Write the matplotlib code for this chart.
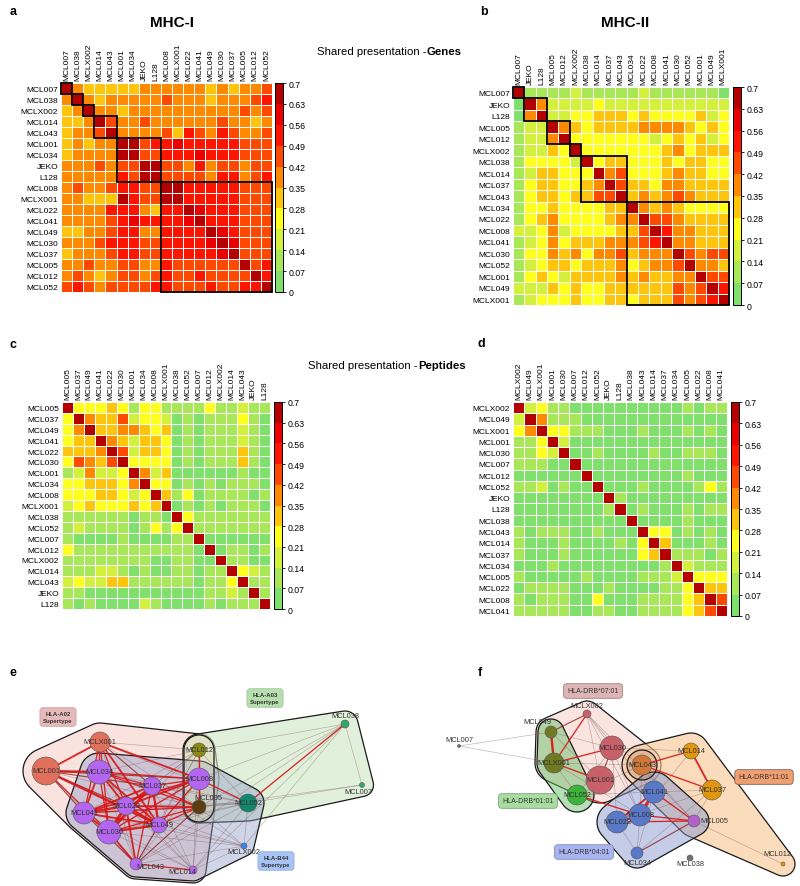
import numpy as np
import matplotlib.pyplot as plt
from matplotlib.colors import ListedColormap, BoundaryNorm, to_rgba
from matplotlib.patches import Polygon, Circle, Rectangle
from matplotlib.cm import ScalarMappable

plt.rcParams['font.family'] = ['Liberation Sans', 'DejaVu Sans']

# ---------------- data ----------------
mhc1_gene_names = ['MCL007', 'MCL038', 'MCLX002', 'MCL014', 'MCL043', 'MCL001', 'MCL034', 'JEKO', 'L128', 'MCL008',
                   'MCLX001', 'MCL022', 'MCL041', 'MCL049', 'MCL030', 'MCL037', 'MCL005', 'MCL012', 'MCL052']
mhc1_gene_clusters = [1, 1, 1, 2, 4, 10]
mhc1_genes = [
    [1.0, .38, .31, .31, .31, .31, .31, .38, .38, .38, .38, .38, .38, .31, .38, .31, .38, .38, .45],
    [.38, 1.0, .38, .31, .38, .38, .38, .38, .38, .45, .38, .38, .38, .31, .38, .38, .38, .45, .52],
    [.31, .38, 1.0, .38, .38, .31, .38, .38, .38, .38, .38, .38, .38, .38, .38, .38, .45, .38, .45],
    [.31, .31, .38, 1.0, .45, .38, .38, .45, .38, .38, .38, .38, .38, .38, .45, .38, .38, .31, .38],
    [.31, .38, .38, .45, 1.0, .38, .38, .38, .38, .45, .31, .52, .45, .38, .52, .45, .38, .38, .45],
    [.31, .38, .31, .38, .38, 1.0, .66, .45, .52, .52, .59, .52, .52, .52, .52, .52, .45, .45, .45],
    [.31, .38, .38, .38, .38, .66, 1.0, .45, .45, .52, .52, .52, .59, .52, .52, .52, .45, .45, .45],
    [.38, .38, .38, .45, .38, .45, .45, 1.0, .66, .45, .45, .38, .52, .38, .45, .45, .38, .45, .45],
    [.38, .38, .38, .38, .38, .52, .45, .66, 1.0, .45, .45, .45, .45, .38, .52, .52, .38, .45, .52],
    [.38, .45, .38, .38, .45, .52, .52, .45, .45, 1.0, .66, .52, .52, .52, .52, .52, .45, .45, .45],
    [.38, .38, .31, .31, .31, .66, .52, .45, .45, .66, 1.0, .52, .52, .52, .52, .52, .45, .45, .45],
    [.38, .38, .38, .38, .52, .52, .52, .38, .31, .52, .52, 1.0, .59, .52, .52, .52, .45, .45, .45],
    [.38, .38, .38, .38, .45, .52, .59, .52, .52, .52, .52, .59, 1.0, .52, .52, .52, .45, .45, .45],
    [.31, .31, .38, .38, .45, .52, .52, .38, .38, .52, .52, .52, .52, 1.0, .59, .52, .45, .45, .45],
    [.38, .38, .38, .45, .52, .52, .52, .45, .45, .52, .52, .52, .52, .59, 1.0, .59, .45, .45, .45],
    [.31, .38, .38, .38, .45, .52, .52, .45, .45, .52, .52, .52, .52, .52, .59, 1.0, .45, .45, .45],
    [.38, .38, .45, .38, .38, .45, .45, .38, .38, .52, .45, .45, .45, .45, .45, .45, 1.0, .45, .52],
    [.38, .45, .38, .31, .38, .45, .45, .38, .45, .52, .45, .45, .52, .45, .45, .45, .45, 1.0, .52],
    [.45, .52, .45, .38, .45, .45, .45, .45, .52, .52, .45, .45, .45, .52, .45, .45, .52, .52, 1.0],
]

mhc2_gene_names = ['MCL007', 'JEKO', 'L128', 'MCL005', 'MCL012', 'MCLX002', 'MCL038', 'MCL014', 'MCL037', 'MCL043',
                   'MCL034', 'MCL022', 'MCL008', 'MCL041', 'MCL030', 'MCL052', 'MCL001', 'MCL049', 'MCLX001']
mhc2_gene_clusters = [1, 2, 2, 1, 4, 9]
mhc2_genes = [
    [1.0, .10, .10, .10, .10, .17, .10, .10, .10, .10, .10, .17, .10, .10, .10, .10, .10, .10, .03],
    [.03, 1.0, .38, .17, .17, .17, .17, .24, .17, .17, .17, .17, .17, .17, .17, .17, .17, .17, .17],
    [.03, .38, 1.0, .17, .17, .24, .24, .31, .31, .31, .24, .31, .24, .24, .24, .24, .31, .17, .24],
    [.10, .17, .17, 1.0, .38, .31, .24, .31, .31, .31, .31, .38, .38, .38, .38, .31, .24, .31, .24],
    [.10, .17, .17, .38, 1.0, .24, .24, .24, .24, .24, .24, .24, .17, .24, .31, .24, .31, .17, .24],
    [.10, .17, .17, .31, .24, 1.0, .24, .24, .24, .24, .24, .24, .24, .31, .38, .24, .31, .31, .31],
    [.10, .24, .24, .24, .24, .17, 1.0, .24, .31, .31, .24, .24, .24, .31, .24, .31, .31, .24, .24],
    [.10, .17, .31, .31, .24, .24, .24, 1.0, .38, .45, .24, .24, .24, .31, .38, .31, .31, .24, .24],
    [.10, .24, .31, .31, .24, .24, .31, .38, 1.0, .45, .31, .31, .24, .38, .38, .31, .31, .31, .31],
    [.10, .24, .31, .31, .24, .31, .31, .45, .45, 1.0, .31, .38, .31, .38, .45, .38, .31, .31, .31],
    [.10, .24, .24, .31, .24, .24, .24, .24, .31, .31, 1.0, .38, .31, .38, .31, .24, .24, .24, .24],
    [.10, .24, .31, .38, .24, .24, .24, .24, .31, .38, .38, 1.0, .45, .45, .38, .31, .31, .31, .31],
    [.17, .17, .24, .38, .17, .24, .24, .24, .24, .31, .31, .45, 1.0, .52, .38, .38, .31, .31, .31],
    [.10, .17, .24, .38, .24, .31, .31, .31, .38, .38, .38, .45, .52, 1.0, .38, .38, .31, .31, .31],
    [.10, .24, .24, .38, .31, .38, .24, .38, .38, .45, .31, .38, .38, .38, 1.0, .45, .38, .45, .45],
    [.10, .17, .24, .31, .31, .24, .31, .31, .31, .38, .24, .31, .38, .38, .45, 1.0, .38, .38, .31],
    [.10, .24, .31, .24, .17, .31, .31, .31, .31, .38, .31, .38, .31, .31, .38, .38, 1.0, .45, .45],
    [.17, .17, .17, .31, .24, .31, .24, .24, .31, .31, .31, .31, .31, .31, .45, .38, .45, 1.0, .52],
    [.10, .17, .24, .24, .24, .31, .24, .24, .31, .31, .24, .31, .31, .31, .45, .38, .45, .52, 1.0],
]

mhc1_pep_names = ['MCL005', 'MCL037', 'MCL049', 'MCL041', 'MCL022', 'MCL030', 'MCL001', 'MCL034', 'MCL008', 'MCLX001',
                  'MCL038', 'MCL052', 'MCL007', 'MCL012', 'MCLX002', 'MCL014', 'MCL043', 'JEKO', 'L128']
mhc1_peptides = [
    [1.0, .24, .24, .24, .31, .24, .10, .24, .24, .10, .10, .10, .10, .24, .10, .10, .17, .10, .10],
    [.24, 1.0, .38, .31, .31, .45, .17, .24, .24, .17, .03, .10, .03, .10, .10, .10, .24, .10, .03],
    [.24, .38, 1.0, .31, .31, .38, .38, .31, .24, .31, .03, .10, .03, .10, .10, .10, .17, .10, .03],
    [.24, .31, .31, 1.0, .38, .31, .17, .31, .31, .24, .03, .10, .03, .10, .10, .10, .17, .10, .03],
    [.31, .31, .31, .38, 1.0, .45, .17, .31, .31, .24, .03, .10, .03, .10, .10, .10, .31, .10, .03],
    [.24, .45, .38, .31, .45, 1.0, .24, .24, .24, .24, .03, .10, .03, .10, .10, .10, .31, .10, .03],
    [.10, .17, .38, .17, .17, .24, 1.0, .38, .17, .31, .03, .03, .03, .03, .03, .03, .10, .03, .03],
    [.24, .24, .31, .31, .31, .24, .38, 1.0, .24, .24, .03, .10, .03, .10, .03, .10, .10, .10, .03],
    [.24, .24, .24, .31, .31, .24, .17, .24, 1.0, .31, .10, .24, .03, .10, .10, .10, .10, .03, .10],
    [.17, .24, .31, .24, .24, .24, .31, .24, .31, 1.0, .03, .10, .03, .10, .03, .10, .10, .10, .03],
    [.10, .10, .10, .10, .10, .10, .03, .10, .10, .03, 1.0, .24, .10, .10, .10, .10, .10, .10, .10],
    [.10, .17, .10, .10, .10, .10, .03, .10, .24, .10, .24, 1.0, .10, .10, .10, .10, .10, .10, .10],
    [.10, .03, .03, .03, .03, .10, .03, .03, .03, .03, .10, .10, 1.0, .03, .03, .03, .03, .03, .03],
    [.24, .10, .10, .10, .10, .10, .10, .10, .10, .10, .10, .10, .03, 1.0, .03, .10, .10, .03, .10],
    [.10, .10, .10, .10, .10, .10, .10, .10, .03, .03, .10, .10, .03, .03, 1.0, .10, .10, .03, .03],
    [.10, .10, .10, .17, .17, .10, .03, .10, .03, .03, .10, .10, .03, .10, .10, 1.0, .24, .17, .10],
    [.17, .24, .17, .17, .31, .31, .10, .10, .10, .10, .10, .10, .03, .10, .10, .24, 1.0, .10, .10],
    [.10, .10, .03, .03, .03, .03, .03, .03, .03, .03, .03, .03, .03, .10, .10, .17, .10, 1.0, .10],
    [.10, .03, .10, .03, .03, .03, .03, .17, .10, .03, .03, .03, .03, .10, .03, .10, .10, .10, 1.0],
]

mhc2_pep_names = ['MCLX002', 'MCL049', 'MCLX001', 'MCL001', 'MCL030', 'MCL007', 'MCL012', 'MCL052', 'JEKO', 'L128',
                  'MCL038', 'MCL043', 'MCL014', 'MCL037', 'MCL034', 'MCL005', 'MCL022', 'MCL008', 'MCL041']
mhc2_peptides = [
    [1.0, .17, .24, .10, .10, .03, .03, .03, .03, .03, .03, .03, .03, .03, .03, .10, .03, .10, .10],
    [.17, 1.0, .38, .10, .10, .10, .03, .03, .03, .03, .03, .03, .03, .03, .03, .03, .03, .03, .03],
    [.24, .38, 1.0, .24, .24, .10, .10, .10, .03, .03, .03, .10, .03, .03, .03, .10, .03, .10, .03],
    [.10, .10, .24, 1.0, .17, .03, .03, .03, .03, .03, .03, .03, .03, .03, .03, .03, .03, .03, .03],
    [.10, .10, .24, .17, 1.0, .03, .03, .10, .03, .03, .03, .03, .10, .03, .03, .10, .10, .10, .03],
    [.10, .10, .10, .03, .03, 1.0, .03, .03, .03, .03, .03, .03, .03, .03, .03, .03, .03, .03, .03],
    [.03, .03, .03, .03, .03, .03, 1.0, .03, .03, .03, .03, .03, .03, .03, .03, .10, .03, .03, .03],
    [.10, .10, .17, .03, .10, .03, .03, 1.0, .03, .03, .03, .10, .03, .03, .03, .03, .10, .24, .10],
    [.03, .03, .03, .03, .03, .03, .03, .03, 1.0, .10, .03, .03, .03, .03, .03, .03, .03, .03, .03],
    [.03, .03, .03, .03, .03, .03, .03, .03, .10, 1.0, .03, .10, .03, .03, .03, .10, .03, .10, .10],
    [.03, .03, .03, .03, .03, .03, .03, .03, .03, .03, 1.0, .03, .03, .03, .03, .10, .03, .03, .03],
    [.10, .03, .10, .10, .10, .03, .03, .10, .03, .03, .03, 1.0, .24, .24, .03, .10, .03, .10, .03],
    [.10, .03, .03, .03, .10, .03, .03, .03, .03, .10, .03, .24, 1.0, .31, .03, .03, .03, .10, .03],
    [.10, .03, .03, .03, .10, .03, .03, .03, .03, .03, .03, .24, .31, 1.0, .10, .10, .10, .03, .10],
    [.03, .03, .03, .10, .03, .03, .03, .03, .03, .03, .03, .03, .03, .10, 1.0, .17, .10, .10, .10],
    [.10, .03, .03, .03, .03, .03, .10, .03, .03, .03, .03, .10, .10, .10, .17, 1.0, .24, .24, .24],
    [.03, .10, .10, .10, .10, .03, .03, .03, .10, .03, .03, .03, .03, .10, .10, .24, 1.0, .31, .31],
    [.10, .03, .10, .10, .10, .03, .03, .24, .03, .03, .03, .10, .10, .10, .10, .24, .31, 1.0, .45],
    [.10, .10, .10, .10, .10, .03, .03, .10, .10, .03, .03, .10, .10, .10, .10, .24, .31, .45, 1.0],
]

# network e (MHC-I): layout
net1_nodes = ['MCLX001', 'MCL001', 'MCL034', 'MCL037', 'MCL008', 'MCL022', 'MCL041', 'MCL030', 'MCL049',
              'MCL043', 'MCL014', 'MCL012', 'MCL005', 'MCL052', 'MCLX002', 'MCL038', 'MCL007']
net1_x = [100, 46, 99, 152, 199, 126, 84, 109, 159, 136, 193, 199, 199, 248, 244, 345, 362]
net1_y = [83, 112, 113, 127, 120, 147, 154, 173, 166, 205, 211, 91, 148, 144, 187, 65, 126]
net1_size = [10, 14, 12, 9, 11, 9, 11, 12, 8, 6, 4, 7, 7, 9, 3, 4, 2.5]
net1_allele = ['A02', 'A02', 'A02/B44', 'A02/B44', 'A02/B44', 'A02/B44', 'A02/B44', 'A02/B44', 'A02/B44',
               'A02/B44', 'A02/B44', 'A02/A03', 'A02/A03/B44', 'A03/B44', 'B44', 'A03', 'A03']

# network f (MHC-II)
net2_nodes = ['MCLX002', 'MCL049', 'MCL007', 'MCL030', 'MCLX001', 'MCL043', 'MCL014', 'MCL001', 'MCL052',
              'MCL041', 'MCL037', 'MCL008', 'MCL022', 'MCL005', 'MCL034', 'MCL038', 'MCL012']
net2_x = [187, 151, 59, 212, 154, 242, 291, 200, 177, 254, 312, 240, 217, 294, 237, 290, 383]
net2_y = [55, 73, 87, 89, 104, 106, 92, 121, 136, 133, 131, 156, 163, 162, 194, 199, 205]
net2_size = [4, 6, 1.5, 12, 10, 10, 8, 14, 10, 11, 10, 11, 11, 6, 6, 3, 2]
net2_allele = ['07', '01/07', '', '07', '01/07', '07/11', '11', '07', '01', '04', '11', '04', '04',
               '04/11', '04', '', '11']

# ---------------- figure ----------------
W, H = 800, 887
fig = plt.figure(figsize=(8, 8.87), dpi=100)


def px_box(x0, y0, x1, y1):
    return [x0 / W, 1 - y1 / H, (x1 - x0) / W, (y1 - y0) / H]


def fig_text(x, y, s, **kw):
    fig.text(x / W, 1 - y / H, s, va='center', **kw)


shades = ['#80E06C', '#A8E858', '#D2F03C', '#FFFF1E', '#FFC40C', '#FF8A00',
          '#FF4800', '#FF1400', '#EA0000', '#B40000']
cmap = ListedColormap(shades)
cmap.set_over(shades[-1])
bounds = np.round(np.arange(0, 0.71, 0.07), 2)
norm = BoundaryNorm(bounds, cmap.N)


def heatmap(box, cbox, names, values, clusters=None):
    ax = fig.add_axes(px_box(*box))
    m = np.array(values)
    n = len(names)
    ax.pcolormesh(m, cmap=cmap, norm=norm, edgecolors='white', linewidth=0.6)
    ax.set_xlim(0, n)
    ax.set_ylim(n, 0)
    ax.xaxis.tick_top()
    ax.set_xticks(np.arange(n) + 0.5)
    ax.set_xticklabels(names, rotation=90, fontsize=6)
    ax.set_yticks(np.arange(n) + 0.5)
    ax.set_yticklabels(names, fontsize=6)
    ax.tick_params(length=0, pad=2)
    for s in ax.spines.values():
        s.set_visible(False)
    if clusters:
        start = 0
        for c in clusters:
            ax.add_patch(Rectangle((start, start), c, c, fill=False, ec='black', lw=1.3,
                                   zorder=3, clip_on=False))
            start += c
    cax = fig.add_axes(px_box(*cbox))
    cb = fig.colorbar(ScalarMappable(norm=norm, cmap=cmap), cax=cax, ticks=bounds)
    cb.ax.set_yticklabels([f'{b:g}' for b in bounds])
    cb.ax.tick_params(labelsize=6.3, length=2.5, width=0.6, pad=1.5)
    cb.outline.set_linewidth(0.7)


heatmap((61, 84, 272, 293), (275, 84, 283, 293), mhc1_gene_names, mhc1_genes, mhc1_gene_clusters)
heatmap((513, 88, 729, 306), (733, 88, 741, 306), mhc2_gene_names, mhc2_genes, mhc2_gene_clusters)
heatmap((62, 403, 270, 610), (274, 403, 282, 610), mhc1_pep_names, mhc1_peptides)
heatmap((513, 403, 727, 617), (731, 403, 739, 617), mhc2_pep_names, mhc2_peptides)

# titles and panel letters
for x, y, s in [(10, 12, 'a'), (480, 12, 'b'), (10, 345, 'c'), (478, 344, 'd'), (10, 673, 'e'), (478, 673, 'f')]:
    fig_text(x, y, s, fontsize=9, fontweight='bold', ha='left')
fig_text(172, 23, 'MHC-I', fontsize=11, fontweight='bold', ha='center')
fig_text(625, 23, 'MHC-II', fontsize=11, fontweight='bold', ha='center')
fig_text(427, 52, 'Shared presentation -', fontsize=8.2, ha='right')
fig_text(427, 52, 'Genes', fontsize=8.2, fontweight='bold', ha='left')
fig_text(418, 366, 'Shared presentation -', fontsize=8.2, ha='right')
fig_text(418, 366, 'Peptides', fontsize=8.2, fontweight='bold', ha='left')


# ---------------- networks ----------------
def convex_hull(p):
    p = sorted(map(tuple, p))

    def cross(o, a, b):
        return (a[0] - o[0]) * (b[1] - o[1]) - (a[1] - o[1]) * (b[0] - o[0])
    lower, upper = [], []
    for q in p:
        while len(lower) >= 2 and cross(lower[-2], lower[-1], q) <= 0:
            lower.pop()
        lower.append(q)
    for q in reversed(p):
        while len(upper) >= 2 and cross(upper[-2], upper[-1], q) <= 0:
            upper.pop()
        upper.append(q)
    return np.array(lower[:-1] + upper[:-1])


def blob(ax, xs, ys, rs, margin, fc, alpha, lw=0.9):
    ang = np.linspace(0, 2 * np.pi, 48, endpoint=False)
    cloud = np.concatenate([np.c_[x + (r + margin) * np.cos(ang), y + (r + margin) * np.sin(ang)]
                            for x, y, r in zip(xs, ys, rs)])
    ax.add_patch(Polygon(convex_hull(cloud), closed=True, fc=to_rgba(fc, alpha), ec='#1a1a1a',
                         lw=lw, zorder=1))


def network(box, nodes, xs, ys, rs, alleles, node_colors, groups, names, values, shifts, tags):
    ax = fig.add_axes(px_box(*box))
    ax.set_xlim(0, box[2] - box[0])
    ax.set_ylim(box[3] - box[1], 0)
    ax.axis('off')
    for key, margin, fc, alpha in groups:
        sel = [i for i, a in enumerate(alleles) if key in a.split('/')]
        blob(ax, [xs[i] for i in sel], [ys[i] for i in sel], [rs[i] for i in sel], margin, fc, alpha)
    m = np.array(values)
    idx = [names.index(nd) for nd in nodes]
    pairs = []
    for a in range(len(nodes)):
        for b in range(a + 1, len(nodes)):
            v = (m[idx[a], idx[b]] + m[idx[b], idx[a]]) / 2
            if v >= 0.07:
                pairs.append((v, a, b))
    for v, a, b in sorted(pairs):
        if v >= 0.21:
            col, lw, al = '#D81414', 0.4 + 5.5 * (v - 0.14), 0.9
        elif v >= 0.14:
            col, lw, al = '#8E1C1C', 0.8, 0.8
        else:
            col, lw, al = '#7A5454', 0.45, 0.45
        ax.plot([xs[a], xs[b]], [ys[a], ys[b]], color=col, lw=lw, alpha=al, zorder=2,
                solid_capstyle='round')
    for i, nd in enumerate(nodes):
        ax.add_patch(Circle((xs[i], ys[i]), rs[i], fc=node_colors[alleles[i]], ec='#555555',
                            lw=0.4, zorder=3))
        dx, dy = shifts.get(nd, (0, 0))
        ax.text(xs[i] + dx, ys[i] + dy, nd, fontsize=5.3, color='#333333', ha='center',
                va='center', zorder=4)
    for x, y, s, fc, ec, kw in tags:
        ax.text(x, y, s, ha='center', va='center', fontsize=kw.get('size', 5), zorder=5,
                fontweight=kw.get('weight', 'normal'), color='#333333', linespacing=1.5,
                bbox=dict(boxstyle='round,pad=0.55,rounding_size=0.5', fc=fc, ec=ec, lw=0.6))
    return ax


net1_colors = {'A02': '#E0705C', 'A02/B44': '#B466F0', 'A02/A03': '#8C8A12', 'A02/A03/B44': '#5C3C10',
               'A03/B44': '#12876E', 'B44': '#3A86E8', 'A03': '#2FA866'}
net1_groups = [('A02', 9, '#F6CDC6', 0.55), ('A03', 9, '#CDE6C2', 0.6), ('B44', 7, '#8E9AC8', 0.42)]
net1_shift = {'MCL038': (0, -8), 'MCL007': (-4, 7), 'MCLX002': (0, 6), 'MCL043': (14, 3),
              'MCL014': (-11, 2), 'MCL005': (9, -9)}
net1_tags = [(58, 58, 'HLA-A02\nSupertype', '#E6BABA', '#D0A0A0', {'size': 4.3, 'weight': 'bold'}),
             (265, 39, 'HLA-A03\nSupertype', '#B6DEAE', '#A0C898', {'size': 4.3, 'weight': 'bold'}),
             (276, 202, 'HLA-B44\nSupertype', '#A8C4F4', '#90B0E0', {'size': 4.3, 'weight': 'bold'})]
ax_e = network((0, 660, 400, 887), net1_nodes, net1_x, net1_y, net1_size, net1_allele, net1_colors,
               net1_groups, mhc1_pep_names, mhc1_peptides, net1_shift, net1_tags)
# small outline around MCL012 / MCL005
sel = [net1_nodes.index('MCL012'), net1_nodes.index('MCL005')]
blob(ax_e, [net1_x[i] for i in sel], [net1_y[i] for i in sel], [net1_size[i] for i in sel], 8,
     '#E8E0B8', 0.3)

net2_colors = {'07': '#C8606A', '01/07': '#6E7B22', '': '#707070', '07/11': '#D07838', '11': '#E0960E',
               '01': '#3CB43C', '04': '#5A78C8', '04/11': '#B262C8'}
net2_groups = [('07', 9, '#F5D2CC', 0.6), ('11', 10, '#F8C690', 0.6), ('04', 9, '#8A9AD2', 0.5),
               ('01', 7, '#6CC06C', 0.5)]
net2_shift = {'MCLX002': (0, -8), 'MCL049': (-14, -10), 'MCL007': (0, -6), 'MCL005': (20, 0),
              'MCL034': (0, 10), 'MCL038': (0, 6), 'MCL012': (-6, -10)}
net2_tags = [(193, 32, 'HLA-DRB*07:01', '#DDB5B5', '#A08080', {}),
             (128, 142, 'HLA-DRB*01:01', '#A8DCA0', '#80A080', {}),
             (184, 193, 'HLA-DRB*04:01', '#A8B4F0', '#8090C0', {}),
             (364, 118, 'HLA-DRB*11:01', '#F0A070', '#806050', {})]
ax_f = network((400, 660, 800, 887), net2_nodes, net2_x, net2_y, net2_size, net2_allele, net2_colors,
               net2_groups, mhc2_pep_names, mhc2_peptides, net2_shift, net2_tags)
i43 = net2_nodes.index('MCL043')
blob(ax_f, [net2_x[i43]], [net2_y[i43]], [net2_size[i43]], 5, '#B07050', 0.25)

fig.savefig('out.png', dpi=100)
